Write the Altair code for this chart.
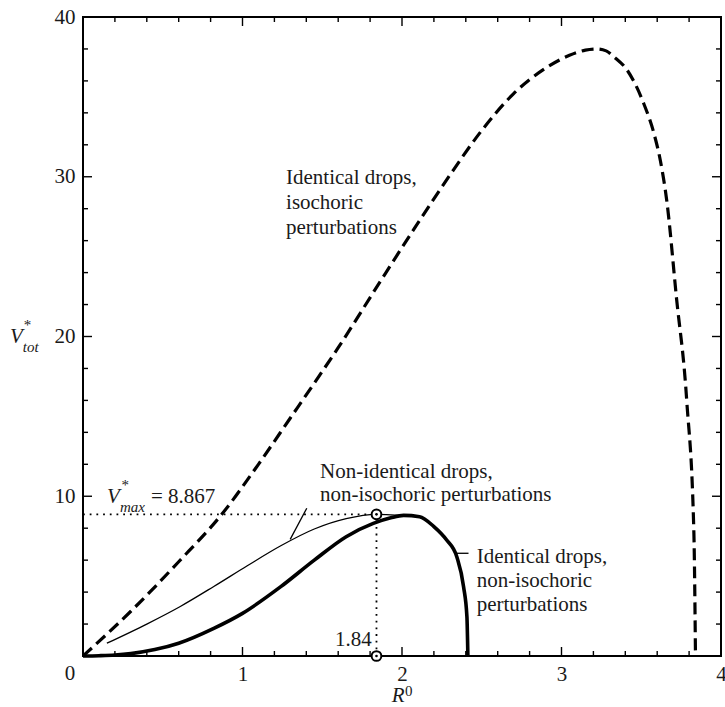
import altair as alt
import pandas as pd

FONT = "Liberation Serif"
W, H = 638, 639
INK = "#1a1a1a"

# ---- curve data ----
iso_x = [0.0, 0.3, 0.6, 0.87, 1.1, 1.3, 1.465, 1.6, 1.88, 2.09, 2.3, 2.5, 2.7, 2.9, 3.05, 3.15, 3.22,
         3.28, 3.33, 3.41, 3.515, 3.58, 3.62, 3.66, 3.72, 3.785, 3.83, 3.84]
iso_y = [0.0, 2.8, 5.9, 8.87, 12.0, 14.9, 17.3, 19.3, 23.7, 26.95, 30.1, 32.9, 35.2, 36.8, 37.6, 37.93, 38.0,
         37.88, 37.5, 36.7, 34.6, 32.7, 31.0, 28.5, 22.5, 16.0, 7.7, 0.0]

thick_x = [0.0, 0.1, 0.2, 0.3, 0.45, 0.6, 0.82, 1.0, 1.24, 1.45, 1.65, 1.82, 1.93, 2.01, 2.11, 2.2,
           2.28, 2.344, 2.386, 2.407, 2.413]
thick_y = [0.0, 0.02, 0.06, 0.15, 0.4, 0.8, 1.73, 2.67, 4.34, 6.0, 7.47, 8.3, 8.65, 8.8, 8.72, 8.1,
           7.26, 6.2, 4.34, 2.46, 0.0]

thin_x = [0.15, 0.4, 0.61, 0.82, 1.03, 1.24, 1.45, 1.65, 1.84, 1.93, 2.0]
thin_y = [0.8, 2.0, 3.1, 4.35, 5.65, 6.9, 7.95, 8.6, 8.867, 8.84, 8.8]

vmax_x = 1.84
vmax_y = 8.867

# ---- ticks ----
x_major = [1, 2, 3]
x_minor = [0.2, 0.4, 0.6, 0.8, 1.2, 1.4, 1.6, 1.8, 2.2, 2.4, 2.6, 2.8, 3.2, 3.4, 3.6, 3.8]
y_major = [10, 20, 30]
y_minor = [2, 4, 6, 8, 12, 14, 16, 18, 22, 24, 26, 28, 32, 34, 36, 38]
x_labels = [1, 2, 3, 4]
y_labels = [10, 20, 30, 40]

# ---- annotations ----
block_text = ["Identical drops,", "isochoric", "perturbations",
              "Non-identical drops,", "non-isochoric perturbations",
              "Identical drops,", "non-isochoric", "perturbations"]
block_x = [1.273, 1.273, 1.273, 1.486, 1.486, 2.468, 2.468, 2.468]
block_y = [29.9, 28.34, 26.77, 11.52, 10.08, 6.22, 4.69, 3.19]

xs = alt.Scale(domain=[0, 4], nice=False, zero=False)
ys = alt.Scale(domain=[0, 40], nice=False, zero=False)

X_AX = alt.Axis(values=x_labels, ticks=False, domain=False, grid=False, labelFont=FONT,
                labelFontSize=21, labelColor=INK, labelPadding=7, format="d",
                labelFlush=False, labelOverlap=False, labelBound=False)
Y_AX = alt.Axis(values=y_labels, ticks=False, domain=False, grid=False, labelFont=FONT,
                labelFontSize=21, labelColor=INK, labelPadding=8, format="d",
                labelFlush=False, labelOverlap=False, labelBound=False)


def X(f="x"):
    return alt.X(f"{f}:Q", scale=xs, axis=X_AX, title=None)


def Y(f="y"):
    return alt.Y(f"{f}:Q", scale=ys, axis=Y_AX, title=None)


def curve(xv, yv, **kw):
    df = pd.DataFrame({"x": xv, "y": yv, "i": list(range(len(xv)))})
    return alt.Chart(df).mark_line(interpolate="monotone", color="black", **kw).encode(
        x=X(), y=Y(), order="i:Q")


def xtick_layers(vals, length):
    bottom = alt.Chart(pd.DataFrame({"v": vals, "z": [0] * len(vals)})).mark_rule(
        color="black", strokeWidth=1.4, y2Offset=-length).encode(x=X("v"), y=Y("z"), y2="z:Q")
    top = alt.Chart(pd.DataFrame({"v": vals, "z": [40] * len(vals)})).mark_rule(
        color="black", strokeWidth=1.4, y2Offset=length).encode(x=X("v"), y=Y("z"), y2="z:Q")
    return [bottom, top]


def ytick_layers(vals, length):
    left = alt.Chart(pd.DataFrame({"v": vals, "z": [0] * len(vals)})).mark_rule(
        color="black", strokeWidth=1.4, x2Offset=length).encode(y=Y("v"), x=X("z"), x2="z:Q")
    right = alt.Chart(pd.DataFrame({"v": vals, "z": [4] * len(vals)})).mark_rule(
        color="black", strokeWidth=1.4, x2Offset=-length).encode(y=Y("v"), x=X("z"), x2="z:Q")
    return [left, right]


ticks = xtick_layers(x_major, 9) + xtick_layers(x_minor, 5) + ytick_layers(y_major, 9) + ytick_layers(y_minor, 5)

iso = curve(iso_x, iso_y, strokeWidth=3.2, strokeDash=[12, 6])
thick = curve(thick_x, thick_y, strokeWidth=3.6)
thin = curve(thin_x, thin_y, strokeWidth=1.3)

# dotted guides
dot_df = pd.DataFrame({"x": [0, vmax_x], "x2": [vmax_x, vmax_x],
                       "y": [vmax_y, 0], "y2": [vmax_y, vmax_y]})
dotted = alt.Chart(dot_df).mark_rule(color="black", strokeWidth=1.8, strokeDash=[1.8, 4.9]).encode(
    x=X(), x2="x2:Q", y=Y(), y2="y2:Q")

# leader lines
lead_df = pd.DataFrame({"x": [1.299, 2.334], "x2": [1.403, 2.417],
                        "y": [7.3, 6.43], "y2": [9.25, 6.43]})
leaders = alt.Chart(lead_df).mark_rule(color="black", strokeWidth=1.3).encode(
    x=X(), x2="x2:Q", y=Y(), y2="y2:Q")

# markers
mk_df = pd.DataFrame({"x": [vmax_x, vmax_x], "y": [vmax_y, 0]})
ring = alt.Chart(mk_df).mark_point(shape="circle", size=95, fill="white", stroke="black",
                                   strokeWidth=2, opacity=1).encode(x=X(), y=Y())
dot = alt.Chart(mk_df).mark_point(shape="circle", size=7, filled=True, color="black",
                                  opacity=1).encode(x=X(), y=Y())


def text_layer(txt, xv, yv, size=21, style="normal", align="left", baseline="middle"):
    df = pd.DataFrame({"x": xv, "y": yv, "t": txt})
    return alt.Chart(df).mark_text(font=FONT, fontSize=size, fontStyle=style, align=align,
                                   baseline=baseline, color=INK).encode(x=X(), y=Y(), text="t:N")


blocks = text_layer(block_text, block_x, block_y)
# V*max = 8.867
vm_V = text_layer(["V"], [0.150], [9.95], style="italic")
vm_star = text_layer(["*"], [0.242], [10.72], size=15)
vm_sub = text_layer(["max"], [0.232], [9.35], size=15, style="italic")
vm_val = text_layer(["= 8.867"], [0.426], [9.95])
# 1.84 label
x184 = text_layer(["1.84"], [1.81], [1.0], align="right")
# origin 0
origin = text_layer(["0"], [-0.0815], [-1.1], align="center")
# axis titles
yt_V = text_layer(["V"], [-0.458], [19.99], style="italic")
yt_star = text_layer(["*"], [-0.372], [20.72], size=15)
yt_sub = text_layer(["tot"], [-0.378], [19.35], size=15, style="italic")
xt_R = text_layer(["R"], [1.935], [-2.5], style="italic")
xt_0 = text_layer(["0"], [2.019], [-2.2], size=15)

chart = alt.layer(
    *ticks, dotted, iso, thick, thin, leaders, ring, dot,
    blocks, vm_V, vm_star, vm_sub, vm_val, x184, origin, yt_V, yt_star, yt_sub, xt_R, xt_0
).properties(
    width=W, height=H,
    autosize=alt.AutoSizeParams(type="none"),
    padding={"left": 83, "top": 17, "right": 4, "bottom": 51},
    background="white",
).configure_view(stroke="black", strokeWidth=2)

chart.save("out.html", embed_options={"renderer": "svg", "actions": False})
